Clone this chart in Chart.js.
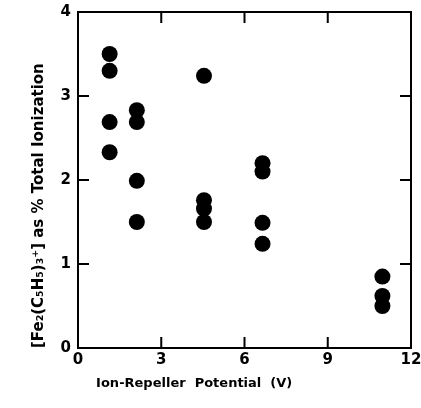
<!DOCTYPE html>
<html>
<head>
<meta charset="utf-8">
<script src="https://cdn.jsdelivr.net/npm/chart.js@4/dist/chart.umd.min.js"></script>
<style>
  html, body { margin: 0; padding: 0; background: #fff; }
  #wrap { width: 421px; height: 408px; }
</style>
</head>
<body>
<div id="wrap"><canvas id="myChart"></canvas></div>
<script>
// repeller potential (V) and ion share (%)
const xValues = [1.14, 1.14, 1.14, 1.14,
                 2.12, 2.12, 2.12, 2.12,
                 4.54, 4.54, 4.54, 4.54,
                 6.65, 6.65, 6.65, 6.65,
                 10.97, 10.97, 10.97];
const yValues = [3.50, 3.30, 2.69, 2.33,
                 2.83, 2.69, 1.99, 1.50,
                 3.24, 1.76, 1.66, 1.50,
                 2.20, 2.10, 1.49, 1.24,
                 0.85, 0.62, 0.50];
const xTicks = [0, 3, 6, 9, 12];
const yTicks = [0, 1, 2, 3, 4];

const points = xValues.map((x, i) => ({x: x, y: yValues[i]}));

// box round the plot with ticks pointing inward on all four sides
const frameTicks = {
   id: 'frameTicks',
   afterDraw(chart) {
      const ctx = chart.ctx;
      const a = chart.chartArea;
      const xs = chart.scales.x;
      const ys = chart.scales.y;
      const len = 11;
      ctx.save();
      ctx.strokeStyle = '#000';
      ctx.lineWidth = 2;
      ctx.strokeRect(a.left, a.top, a.right - a.left, a.bottom - a.top);
      ctx.beginPath();
      xTicks.slice(1, -1).forEach(v => {
         const px = xs.getPixelForValue(v);
         ctx.moveTo(px, a.bottom); ctx.lineTo(px, a.bottom - len);
         ctx.moveTo(px, a.top); ctx.lineTo(px, a.top + len);
      });
      yTicks.slice(1, -1).forEach(v => {
         const py = ys.getPixelForValue(v);
         ctx.moveTo(a.left, py); ctx.lineTo(a.left + len, py);
         ctx.moveTo(a.right, py); ctx.lineTo(a.right - len, py);
      });
      ctx.stroke();
      ctx.restore();
   }
};

const data = {
   datasets: [{
      data: points,
      backgroundColor: '#000',
      borderWidth: 0,
      pointRadius: 8,
      pointHoverRadius: 8
   }]
};

const tickFont = {family: 'DejaVu Sans', size: 15, weight: 'bold'};

const config = {
   type: 'scatter',
   data: data,
   plugins: [frameTicks],
   options: {
      responsive: true,
      maintainAspectRatio: false,
      animation: false,
      layout: {padding: {top: 12, right: 10, left: 0, bottom: 0}},
      plugins: {legend: {display: false}, tooltip: {enabled: false}},
      scales: {
         x: {
            type: 'linear',
            min: 0, max: 12,
            afterBuildTicks: s => { s.ticks = xTicks.map(v => ({value: v})); },
            grid: {display: false, drawTicks: false},
            border: {display: false},
            ticks: {color: '#000', font: tickFont, padding: 3, maxRotation: 0},
            title: {
               display: true, align: 'start',
               text: '    Ion-Repeller  Potential  (V)',
               color: '#000',
               font: {family: 'DejaVu Sans', size: 13, weight: 'bold'},
               padding: {top: 0, bottom: 17}
            },
            afterFit: s => { s.height = 60; s.paddingLeft = 0; s.paddingRight = 0; }
         },
         y: {
            type: 'linear',
            min: 0, max: 4,
            afterBuildTicks: s => { s.ticks = yTicks.map(v => ({value: v})); },
            grid: {display: false, drawTicks: false},
            border: {display: false},
            ticks: {color: '#000', font: tickFont, padding: 7},
            title: {
               display: true, align: 'start',
               text: '[Fe\u2082(C\u2085H\u2085)\u2083\u207A] as % Total Ionization',
               color: '#000',
               font: {family: 'DejaVu Sans', size: 15, weight: 'bold'},
               padding: {top: 30, bottom: 0}
            },
            afterFit: s => { s.width = 78; s.paddingTop = 0; s.paddingBottom = 0; }
         }
      }
   }
};

const myChart = new Chart(document.getElementById('myChart'), config);
</script>
</body>
</html>
